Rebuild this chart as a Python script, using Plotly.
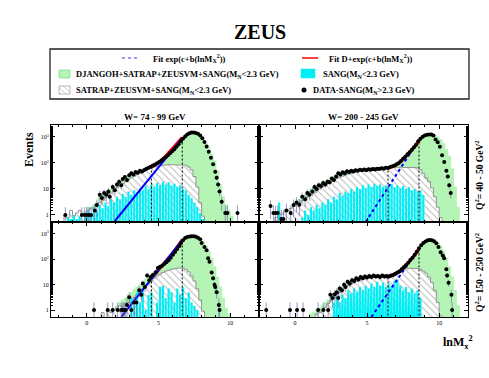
import plotly.graph_objects as go

FONT = 'Liberation Serif'
W, H = 489, 378
BW = 0.2          # histogram bin width in lnMx^2
FLOOR = 0.3       # below the visible y range, used to close the histogram outlines

GREEN = '#b9f5b9'
GREEN_DOT = '#86e886'
CYAN = '#00eef6'
HATCH = '#8a8a8a'

# ---------------- top-left: W = 74-99 GeV, Q2 = 40-50 GeV2
tl_green_start = 0.1
tl_green = [2, 2, 2.5, 3, 5, 6, 7, 8, 10, 12, 15, 19, 24, 28, 33, 38, 42, 46, 50, 55,
            60, 66, 72, 82, 95, 112, 135, 165, 205, 260, 340, 450, 620, 1000, 1250,
            1420, 1480, 1450, 1330, 1100, 800, 560, 360, 220, 120, 50, 15, 5, 2.5, 1.5, 0.9]
tl_hatch_start = -1.5
tl_hatch = [1, 0.8, 1.5, 0.9, 1.2, 1.5, 1, 1.3, 1.5, 1.8, 2, 2.5, 3, 3.5, 4.5, 5.5, 7, 8.5,
            11, 13, 16, 19, 23, 27, 31, 36, 40, 46, 52, 58, 64, 70, 75, 78, 82, 84, 86, 86,
            86, 85, 84, 84, 82, 70, 54, 30, 12, 3, 0.9]
tl_sang_start = -1.3
tl_sang = [0.8, 0.7, 1.0, 0.7, 0.9, 0, 1.2, 1.5, 1.1, 2, 1.4, 2.5, 1.8, 3, 2.2, 4, 3, 5, 4,
           6.5, 5, 8, 6, 9, 7.5, 11, 9, 13, 10, 15, 12, 17, 14, 19, 15, 18, 14, 16, 12, 14,
           10, 9, 6, 4.5, 3, 2, 1.2, 0.7]
tl_data_x = [-1.5, -0.35, -0.15, 0.0, 0.15, 0.3, 0.55, 0.7, 0.9, 1.05, 1.2, 1.35, 1.5, 1.6,
             1.8, 1.95, 2.1, 2.25, 2.4, 2.5, 2.65, 2.8, 2.95, 3.1, 3.25, 3.4, 3.55, 3.7, 3.85,
             4.0, 4.15, 4.3, 4.45, 4.6, 4.75, 4.9, 5.05, 5.2, 5.35, 5.5, 5.65, 5.8, 5.95, 6.1,
             6.25, 6.4, 6.55, 6.7, 6.85, 7.0, 7.15, 7.3, 7.45, 7.6, 7.75, 7.9, 8.05, 8.2,
             8.35, 8.5, 8.65, 8.8, 8.95, 9.05, 9.15, 9.25, 9.4, 9.65, 9.8, 10.5]
tl_data_y = [1, 1, 1, 1, 1, 1, 1.5, 2.4, 6, 4.5, 7, 6, 8, 5, 12, 9, 15, 19, 14, 24, 29, 22,
             34, 40, 36, 45, 42, 50, 47, 54, 60, 65, 72, 80, 88, 98, 110, 125, 145, 170, 200,
             235, 280, 340, 420, 530, 680, 860, 1050, 1250, 1400, 1470, 1480, 1430, 1320,
             1130, 900, 640, 430, 270, 160, 90, 46, 27, 15, 8, 3.2, 1.2, 1.2, 1.2]
tl_fit_x = [1.9, 6.65]
tl_fit_y = [0.54, 910]
tl_fitd_x = [4.5, 5.0, 5.5, 6.0, 6.65]
tl_fitd_y = [70, 105, 185, 370, 940]
tl_cut_x = [4.5, 6.65]
tl_cut_y = [70, 910]

# ---------------- top-right: W = 200-245 GeV, Q2 = 40-50 GeV2
tr_green_start = 0.1
tr_green = [3, 4, 5, 6, 8, 10, 12, 14, 16, 18, 20, 23, 26, 30, 34, 38, 42, 45, 48, 50, 52,
            54, 56, 58, 60, 62, 63, 64, 65, 66, 67, 68, 68, 72, 80, 92, 112, 140, 180, 240,
            320, 430, 600, 820, 1020, 1180, 1280, 1280, 1180, 1000, 800, 560, 330, 180, 60,
            12, 2]
tr_hatch_start = -1.3
tr_hatch = [0.8, 1, 1.1, 1.3, 1.5, 1.8, 2.1, 2.5, 3, 3.5, 4.2, 5, 6, 7, 8.5, 10, 12, 14, 16,
            19, 22, 25, 28, 31, 34, 37, 40, 44, 48, 52, 56, 59, 62, 64, 66, 67, 68, 69, 70,
            70, 70, 70, 70, 70, 70, 69, 68, 67, 66, 64, 55, 40, 27, 19, 11, 5, 2, 0.8]
tr_sang_start = -1.1
tr_sang = [3, 0, 0, 0, 0, 0, 0, 0, 0.8, 1.5, 1, 2, 1.5, 2.5, 1.8, 3, 2.5, 4, 3, 5, 4, 7, 5.5,
           8, 7, 10, 8, 12, 10, 14, 11, 15, 12, 16, 13, 15, 12, 14, 11, 16, 12, 14, 11, 13,
           10, 12, 9, 10, 8, 9, 6]
tr_data_x = [-1.7, -1.5, -1.35, -1.2, -0.95, -0.8, -0.6, -0.3, -0.1, 0.1, 0.3, 0.5, 0.7,
             0.85, 1.0, 1.2, 1.35, 1.5, 1.65, 1.8, 1.95, 2.1, 2.25, 2.4, 2.55, 2.7, 2.85, 3.0,
             3.15, 3.3, 3.45, 3.6, 3.75, 3.9, 4.05, 4.2, 4.35, 4.5, 4.65, 4.8, 4.95, 5.1,
             5.25, 5.4, 5.55, 5.7, 5.85, 6.0, 6.15, 6.3, 6.45, 6.6, 6.75, 6.9, 7.05, 7.2,
             7.35, 7.5, 7.65, 7.8, 7.95, 8.1, 8.25, 8.4, 8.55, 8.7, 8.85, 9.0, 9.15, 9.3,
             9.45, 9.6, 9.75, 9.9, 10.05, 10.2, 10.35, 10.5, 10.6, 10.7, 10.8]
tr_data_y = [2.2, 1.2, 1.2, 1.2, 0.7, 0.7, 1.5, 1.2, 2.4, 3, 2.5, 5, 4, 7, 6, 8, 12, 10, 14,
             13, 17, 15, 19, 18, 25, 22, 30, 40, 36, 44, 40, 48, 45, 50, 47, 52, 50, 55, 52,
             56, 53, 57, 55, 58, 56, 60, 58, 62, 60, 66, 64, 70, 74, 80, 90, 100, 120, 145,
             175, 215, 260, 320, 400, 500, 680, 860, 1020, 1150, 1220, 1240, 1230, 1150, 800,
             620, 420, 200, 110, 50, 30, 14, 7]
tr_fit_x = [4.9, 8.6]
tr_fit_y = [0.54, 780]
tr_fitd_x = [6.45, 6.9, 7.2, 7.6, 7.9, 8.2, 8.4, 8.6]
tr_fitd_y = [64, 78, 100, 160, 240, 370, 500, 780]
tr_cut_x = [6.45, 8.6]
tr_cut_y = [64, 780]

# ---------------- bottom-left: W = 74-99 GeV, Q2 = 150-250 GeV2
bl_green_start = 1.7
bl_green = [1, 0.8, 1.5, 2, 2.5, 3, 4, 5, 6.5, 8, 10, 13, 16, 20, 25, 31, 40, 52, 68, 90,
            120, 160, 215, 290, 390, 520, 650, 760, 820, 820, 760, 640, 480, 330, 200, 110,
            50, 20, 8, 3, 1.2, 0.7]
bl_hatch_start = 1.1
bl_hatch = [0.8, 0, 1, 0.8, 1, 1.2, 1.5, 1.3, 1.8, 2, 2.5, 3, 4, 5, 7, 9, 11, 14, 18, 22,
            26, 30, 34, 37, 40, 42, 44, 45, 44, 40, 32, 22, 14, 7, 2.5, 0.9]
bl_sang_start = 2.9
bl_sang = [0, 3, 1.5, 5, 2, 6, 1, 4, 5, 0, 2, 8, 9, 3, 7, 5, 2, 7, 4, 8, 3, 5, 2, 1.5, 1, 0]
bl_data_x = [0.5, 1.45, 1.8, 2.15, 2.4, 2.5, 2.6, 2.7, 2.8, 2.95, 3.1, 3.3, 3.45, 3.65, 3.8,
             3.9, 4.05, 4.2, 4.35, 4.45, 4.6, 4.8, 4.95, 5.1, 5.25, 5.4, 5.55, 5.7, 5.85, 6.0,
             6.15, 6.3, 6.45, 6.55, 6.7, 6.85, 7.0, 7.15, 7.3, 7.45, 7.6, 7.75, 7.9, 8.0,
             8.2, 8.35, 8.45, 8.55, 8.7, 8.8, 8.9, 8.95, 9.05, 9.2, 9.25]
bl_data_y = [1, 1, 1, 1, 1, 1, 1, 1, 1.6, 3.2, 1, 2, 2, 6, 4, 11, 8, 23, 15, 20, 24, 31, 45,
             50, 55, 65, 75, 90, 115, 150, 190, 250, 330, 420, 560, 680, 740, 770, 790, 790,
             760, 700, 600, 430, 300, 225, 110, 80, 30, 18, 10, 8, 5, 1.6, 1]
bl_fit_x = [2.4, 6.65]
bl_fit_y = [0.54, 560]
bl_fitd_x = [4.5, 5.0, 5.5, 6.0, 6.65]
bl_fitd_y = [18, 38, 82, 178, 565]
bl_cut_x = [4.5, 6.65]
bl_cut_y = [18, 560]

# ---------------- bottom-right: W = 200-245 GeV, Q2 = 150-250 GeV2
br_green_start = 1.1
br_green = [0.7, 0.8, 1, 1.2, 1.5, 2, 2.5, 3, 4, 5, 6.5, 8, 10, 12, 14, 16, 18, 20, 21, 22,
            22, 23, 23, 23, 24, 24, 24, 24, 25, 28, 31, 37, 46, 58, 75, 100, 140, 200, 290,
            390, 490, 570, 580, 540, 450, 330, 210, 110, 50, 20, 6, 1.5]
br_hatch_start = 1.5
br_hatch = [0.7, 0.8, 1, 1.3, 1.8, 2.4, 3, 4, 5, 6, 7.5, 9, 10.5, 12, 13.5, 15, 16, 17, 18,
            19, 20, 20, 21, 21, 22, 23, 25, 28, 31, 35, 38, 41, 43, 44, 44, 43, 40, 34, 28,
            20, 12, 6, 2, 0.6]
br_sang_start = 2.7
br_sang = [2, 3.5, 2, 4, 3, 6, 4.5, 7, 5, 8, 6, 9, 7, 11, 8, 13, 9, 12, 8, 11, 9, 14, 16, 9,
           6, 8, 5, 7, 4.5, 6, 3, 0]
br_data_x = [-2.0, -0.35, 0.14, 0.56, 1.6, 1.96, 2.3, 2.45, 2.6, 2.75, 2.9, 3.0, 3.1, 3.25,
             3.4, 3.5, 3.65, 3.8, 3.95, 4.1, 4.25, 4.4, 4.55, 4.7, 4.85, 5.0, 5.15, 5.3, 5.45,
             5.6, 5.75, 5.9, 6.05, 6.2, 6.35, 6.5, 6.65, 6.8, 6.95, 7.1, 7.25, 7.4, 7.55, 7.7,
             7.85, 8.0, 8.15, 8.3, 8.45, 8.6, 8.75, 8.9, 9.05, 9.2, 9.35, 9.5, 9.65, 9.8,
             9.95, 10.1, 10.25, 10.35, 10.5, 10.55, 10.65, 10.85, 10.9]
br_data_y = [1, 1, 1, 1, 1, 1, 1, 4, 3, 4.2, 5, 3, 7, 6, 10, 8, 13, 11, 15, 14, 18, 16, 20,
             18, 21, 19, 22, 20, 23, 21, 22, 20, 23, 21, 22, 21, 23, 24, 27, 30, 33, 40, 48,
             58, 72, 92, 115, 150, 195, 270, 350, 430, 500, 550, 570, 560, 510, 420, 300, 186,
             140, 110, 40, 23, 12, 4, 1]
br_fit_x = [5.3, 8.6]
br_fit_y = [0.54, 270]
br_fitd_x = [6.45, 6.8, 7.2, 7.6, 7.9, 8.2, 8.4, 8.6]
br_fitd_y = [20, 24, 32, 52, 78, 125, 175, 270]
br_cut_x = [6.45, 8.6]
br_cut_y = [20, 270]


def step_outline(start, vals):
    xs, ys = [start - BW / 2], [FLOOR]
    for i, v in enumerate(vals):
        c = start + i * BW
        v = v if v > 0 else FLOOR
        xs += [c - BW / 2, c + BW / 2]
        ys += [v, v]
    xs.append(start + (len(vals) - 1) * BW + BW / 2)
    ys.append(FLOOR)
    return xs, ys


def spikes(start, vals, w=0.15):
    # narrow bars as one polygon so they sit above the filled histograms
    xs, ys = [], []
    for i, v in enumerate(vals):
        c = start + i * BW
        v = v if v > 0 else FLOOR
        xs += [c - w / 2, c - w / 2, c + w / 2, c + w / 2]
        ys += [FLOOR, v, v, FLOOR]
    return xs, ys


def add_panel(fig, ax, p, blue_dash):
    xa, ya = 'x' + ax, 'y' + ax
    gx, gy = step_outline(p['green_start'], p['green'])
    fig.add_trace(go.Scatter(
        x=gx, y=gy, xaxis=xa, yaxis=ya, mode='lines', fill='toself',
        fillcolor=GREEN, line=dict(color='#a6eea6', width=0.6),
        fillpattern=dict(shape='x', fgcolor=GREEN_DOT, size=3, solidity=0.25),
        hoverinfo='skip'))
    hx, hy = step_outline(p['hatch_start'], p['hatch'])
    fig.add_trace(go.Scatter(
        x=hx, y=hy, xaxis=xa, yaxis=ya, mode='lines', fill='toself',
        fillcolor='white', line=dict(color=HATCH, width=0.9),
        fillpattern=dict(shape='\\', fgcolor='#707070', size=5, solidity=0.2),
        hoverinfo='skip'))
    sx, sy = spikes(p['sang_start'], p['sang'])
    fig.add_trace(go.Scatter(
        x=sx, y=sy, xaxis=xa, yaxis=ya, mode='lines', fill='toself',
        fillcolor=CYAN, line=dict(width=0), hoverinfo='skip'))
    for cx, cy in zip(p['cut_x'], p['cut_y']):
        fig.add_trace(go.Scatter(
            x=[cx, cx], y=[FLOOR, cy], xaxis=xa, yaxis=ya, mode='lines',
            line=dict(color='black', width=1, dash='2px,2px')))
    fig.add_trace(go.Scatter(
        x=p['fitd_x'], y=p['fitd_y'], xaxis=xa, yaxis=ya, mode='lines',
        line=dict(color='red', width=3.2, shape='spline')))
    fig.add_trace(go.Scatter(
        x=p['fit_x'], y=p['fit_y'], xaxis=xa, yaxis=ya, mode='lines',
        line=dict(color='blue', width=2, dash=blue_dash)))
    fig.add_trace(go.Scatter(
        x=p['data_x'], y=p['data_y'], xaxis=xa, yaxis=ya, mode='markers',
        marker=dict(color='black', size=4),
        error_y=dict(type='sqrt', color='#7070a8', thickness=0.7, width=0)))


def panel(prefix):
    g = globals()
    keys = ['green_start', 'green', 'hatch_start', 'hatch', 'sang_start', 'sang',
            'data_x', 'data_y', 'fit_x', 'fit_y', 'fitd_x', 'fitd_y', 'cut_x', 'cut_y']
    return {k: g[prefix + '_' + k] for k in keys}


fig = go.Figure()
add_panel(fig, '', panel('tl'), 'solid')
add_panel(fig, '2', panel('tr'), 'dot')
add_panel(fig, '3', panel('bl'), 'solid')
add_panel(fig, '4', panel('br'), 'dot')


def px(x):
    return x / W


def py(y):
    return 1 - y / H


tickfont = dict(family=FONT, size=6, color='black')
x_left = [px(51), px(259)]
x_right = [px(259), px(468)]
y_top = [py(222), py(125)]
y_bot = [py(317), py(222)]


def xaxis(dom, anchor, labels):
    return dict(domain=dom, anchor=anchor, range=[-2.5, 12], showgrid=False, zeroline=False,
                showline=True, linecolor='black', linewidth=1, mirror='allticks',
                ticks='inside', ticklen=4, tickcolor='black', tickvals=[0, 5, 10],
                showticklabels=labels, tickfont=tickfont,
                minor=dict(ticks='inside', ticklen=2, dtick=1, tick0=0, tickcolor='black'))


def yaxis(dom, anchor, labels):
    return dict(domain=dom, anchor=anchor, type='log', range=[-0.27, 3.46], showgrid=False,
                zeroline=False, showline=True, linecolor='black', linewidth=1,
                mirror='allticks', ticks='inside', ticklen=4, tickcolor='black',
                tickvals=[1, 10, 100, 1000],
                ticktext=['1', '10', '10<sup>2</sup>', '10<sup>3</sup>'],
                showticklabels=labels, tickfont=tickfont,
                minor=dict(ticks='inside', ticklen=2, tickcolor='black', showgrid=False))


# legend symbols, drawn on a hidden overlay axis in pixel units
fig.add_trace(go.Scatter(x=[122, 138], y=[58, 58], xaxis='x5', yaxis='y5', mode='lines',
                         line=dict(color='#7878ff', width=1.5, dash='dot')))
fig.add_trace(go.Scatter(x=[302, 318], y=[58, 58], xaxis='x5', yaxis='y5', mode='lines',
                         line=dict(color='red', width=1.5)))
fig.add_trace(go.Scatter(x=[59, 70, 70, 59, 59], y=[70, 70, 78, 78, 70], xaxis='x5', yaxis='y5',
                         mode='lines', fill='toself', fillcolor=GREEN,
                         fillpattern=dict(shape='x', fgcolor=GREEN_DOT, size=3, solidity=0.25),
                         line=dict(color='#8fd88f', width=0.8)))
fig.add_trace(go.Scatter(x=[301, 315, 315, 301, 301], y=[69, 69, 78, 78, 69], xaxis='x5', yaxis='y5',
                         mode='lines', fill='toself', fillcolor=CYAN,
                         line=dict(color=CYAN, width=0.5)))
fig.add_trace(go.Scatter(x=[59, 70, 70, 59, 59], y=[86, 86, 94, 94, 86], xaxis='x5', yaxis='y5',
                         mode='lines', fill='toself', fillcolor='white',
                         fillpattern=dict(shape='\\', fgcolor='#707070', size=4, solidity=0.2),
                         line=dict(color=HATCH, width=0.6)))
fig.add_trace(go.Scatter(x=[304], y=[90], xaxis='x5', yaxis='y5', mode='markers',
                         marker=dict(color='black', size=5)))


def note(text, x, y, size, angle=0, xanchor='center'):
    return dict(text=text, x=px(x), y=py(y), xref='paper', yref='paper', showarrow=False,
                textangle=angle, xanchor=xanchor, yanchor='middle',
                font=dict(family=FONT, size=size, color='black'))


MN = 'M<sub>N</sub>'
annotations = [
    note('<b>ZEUS</b>', 260, 32, 20),
    note('<b>Fit exp(c+b(lnM<sub>X</sub><sup>2</sup>))</b>', 151, 58, 8.5, xanchor='left'),
    note('<b>Fit D+exp(c+b(lnM<sub>X</sub><sup>2</sup>))</b>', 327, 58, 8.5, xanchor='left'),
    note('<b>DJANGOH+SATRAP+ZEUSVM+SANG(' + MN + '&lt;2.3 GeV)</b>', 74, 74, 8.5, xanchor='left'),
    note('<b>SANG(' + MN + '&lt;2.3 GeV)</b>', 321, 74, 8.5, xanchor='left'),
    note('<b>SATRAP+ZEUSVM+SANG(' + MN + '&lt;2.3 GeV)</b>', 74, 90, 8.5, xanchor='left'),
    note('<b>DATA-SANG(' + MN + '&gt;2.3 GeV)</b>', 311, 90, 8.5, xanchor='left'),
    note('<b>W= 74 - 99 GeV</b>', 155, 117, 9),
    note('<b>W= 200 - 245 GeV</b>', 363, 117, 9),
    note('<b>Events</b>', 29, 150, 12, angle=-90),
    note('<b>Q<sup>2</sup>= 40 - 50 GeV<sup>2</sup></b>', 479, 175, 9.5, angle=-90),
    note('<b>Q<sup>2</sup>= 150 - 250 GeV<sup>2</sup></b>', 479, 272, 9.5, angle=-90),
    note('<b>lnM<sub>x</sub><sup>2</sup></b>', 458, 342, 12),
]

fig.update_layout(
    width=W, height=H, margin=dict(l=0, r=0, t=0, b=0),
    paper_bgcolor='white', plot_bgcolor='rgba(0,0,0,0)',
    showlegend=False,
    xaxis=xaxis(x_left, 'y', False), yaxis=yaxis(y_top, 'x', True),
    xaxis2=xaxis(x_right, 'y2', False), yaxis2=yaxis(y_top, 'x2', False),
    xaxis3=xaxis(x_left, 'y3', True), yaxis3=yaxis(y_bot, 'x3', True),
    xaxis4=xaxis(x_right, 'y4', True), yaxis4=yaxis(y_bot, 'x4', False),
    xaxis5=dict(domain=[0, 1], anchor='y5', range=[0, W], visible=False),
    yaxis5=dict(domain=[0, 1], anchor='x5', range=[H, 0], visible=False),
    shapes=[dict(type='rect', xref='paper', yref='paper', x0=px(50), x1=px(469),
                 y0=py(99), y1=py(49), line=dict(color='#222', width=1.3))],
    annotations=annotations,
)

# the page body has a default 8px margin; drop it so the figure fills the window
fig.write_html('out.html', config={'displayModeBar': False},
               post_script="document.body.style.margin='0';")
